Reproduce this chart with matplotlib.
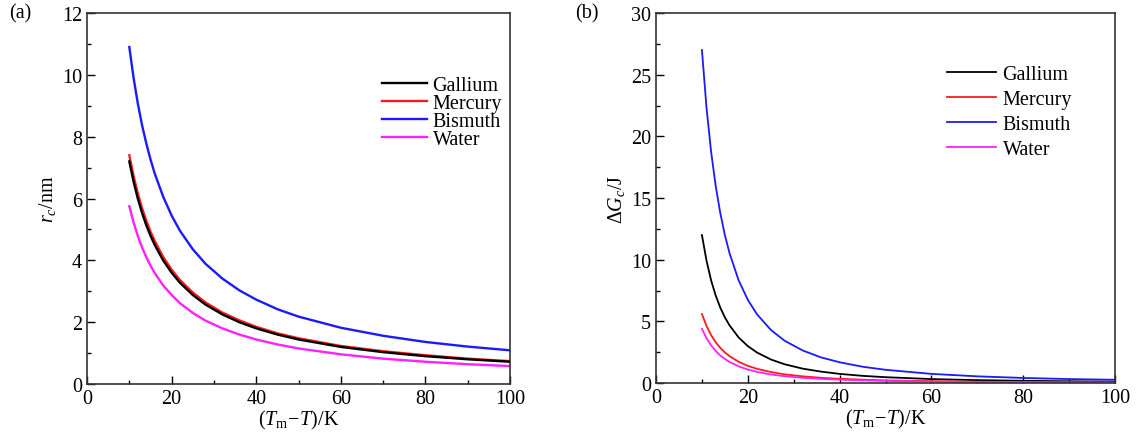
import matplotlib.pyplot as plt
from matplotlib.ticker import MultipleLocator

plt.rcParams['font.family'] = 'Liberation Serif'
plt.rcParams['mathtext.fontset'] = 'custom'
plt.rcParams['mathtext.rm'] = 'Liberation Serif'
plt.rcParams['mathtext.it'] = 'Liberation Serif:italic'

# undercooling (Tm - T) / K
dT = [10, 11, 12, 13, 14, 15, 16, 18, 20, 22, 25, 28, 32, 36, 40, 45, 50, 60, 70, 80, 90, 100]

# (a) critical radius r_c / nm
rc_gallium = [7.2, 6.55, 6.0, 5.54, 5.14, 4.8, 4.5, 4.0, 3.6, 3.27, 2.88, 2.57, 2.25, 2.0, 1.8, 1.6, 1.44, 1.2, 1.03, 0.9, 0.8, 0.72]
rc_mercury = [7.4, 6.73, 6.17, 5.69, 5.29, 4.93, 4.63, 4.11, 3.7, 3.36, 2.96, 2.64, 2.31, 2.06, 1.85, 1.64, 1.48, 1.23, 1.06, 0.93, 0.82, 0.74]
rc_bismuth = [10.9, 9.91, 9.08, 8.38, 7.79, 7.27, 6.81, 6.06, 5.45, 4.95, 4.36, 3.89, 3.41, 3.03, 2.73, 2.42, 2.18, 1.82, 1.56, 1.36, 1.21, 1.09]
rc_water = [5.75, 5.23, 4.79, 4.42, 4.11, 3.83, 3.59, 3.19, 2.88, 2.61, 2.3, 2.05, 1.8, 1.6, 1.44, 1.28, 1.15, 0.96, 0.82, 0.72, 0.64, 0.58]

# (b) critical free energy dG_c / J
gc_gallium = [12.0, 9.92, 8.33, 7.10, 6.12, 5.33, 4.69, 3.70, 3.0, 2.48, 1.92, 1.53, 1.17, 0.93, 0.75, 0.59, 0.48, 0.33, 0.24, 0.19, 0.15, 0.12]
gc_mercury = [5.6, 4.63, 3.89, 3.31, 2.86, 2.49, 2.19, 1.73, 1.4, 1.16, 0.90, 0.71, 0.55, 0.43, 0.35, 0.28, 0.22, 0.16, 0.11, 0.09, 0.07, 0.06]
gc_bismuth = [27.0, 22.31, 18.75, 15.98, 13.78, 12.0, 10.55, 8.33, 6.75, 5.58, 4.32, 3.44, 2.64, 2.08, 1.69, 1.33, 1.08, 0.75, 0.55, 0.42, 0.33, 0.27]
gc_water = [4.4, 3.64, 3.06, 2.6, 2.24, 1.96, 1.72, 1.36, 1.1, 0.91, 0.70, 0.56, 0.43, 0.34, 0.28, 0.22, 0.18, 0.12, 0.09, 0.07, 0.05, 0.04]

names = ['Gallium', 'Mercury', 'Bismuth', 'Water']
colors = ['black', '#ff1a1a', '#1a1aff', '#ff20ff']

fig = plt.figure(figsize=(11.36, 4.39), dpi=100)
ax1 = fig.add_axes([0.0766, 0.123, 0.3724, 0.845])
ax2 = fig.add_axes([0.5775, 0.125, 0.404, 0.843])

fs = 14.5

# (a)
zs = [4, 3, 2, 2]
for ys, c, n, z in zip([rc_gallium, rc_mercury, rc_bismuth, rc_water], colors, names, zs):
    ax1.plot(dT, ys, color=c, lw=1.7, label=n, zorder=z)
ax1.set_xlim(0, 100)
ax1.set_ylim(0, 12)
ax1.xaxis.set_major_locator(MultipleLocator(20))
ax1.xaxis.set_minor_locator(MultipleLocator(10))
ax1.yaxis.set_major_locator(MultipleLocator(2))
ax1.yaxis.set_minor_locator(MultipleLocator(1))
ax1.set_xlabel(r'$(T_\mathrm{m}\!-\!T)$/K', fontsize=fs, labelpad=0)
ax1.set_ylabel(r'$r_c$/nm', fontsize=fs, labelpad=3)
ax1.legend(loc='upper left', bbox_to_anchor=(0.655, 0.88), frameon=False, fontsize=fs,
           labelspacing=-0.05, handlelength=2.2, handletextpad=0.3)
fig.text(0.008, 0.968, '(a)', fontsize=fs, va='center')

# (b)
for ys, c, n in zip([gc_gallium, gc_mercury, gc_bismuth, gc_water], colors, names):
    ax2.plot(dT, ys, color=c, lw=1.3, label=n)
ax2.set_xlim(0, 100)
ax2.set_ylim(0, 30)
ax2.xaxis.set_major_locator(MultipleLocator(20))
ax2.xaxis.set_minor_locator(MultipleLocator(10))
ax2.yaxis.set_major_locator(MultipleLocator(5))
ax2.yaxis.set_minor_locator(MultipleLocator(2.5))
ax2.set_xlabel(r'$(T_\mathrm{m}\!-\!T)$/K', fontsize=fs, labelpad=0)
ax2.set_ylabel(r'$\Delta G_c$/J', fontsize=fs, labelpad=3)
ax2.legend(loc='upper left', bbox_to_anchor=(0.595, 0.91), frameon=False, fontsize=fs,
           labelspacing=0.3, handlelength=2.4, handletextpad=0.35)
fig.text(0.506, 0.968, '(b)', fontsize=fs, va='center')

for ax in (ax1, ax2):
    ax.tick_params(which='both', direction='in', top=False, right=False, labelsize=fs)
    ax.tick_params(which='major', length=6, width=1)
    ax.tick_params(which='minor', length=3, width=1)
    for s in ax.spines.values():
        s.set_linewidth(1.2)
        s.set_color('#333333')

fig.savefig('out.png', dpi=100)
